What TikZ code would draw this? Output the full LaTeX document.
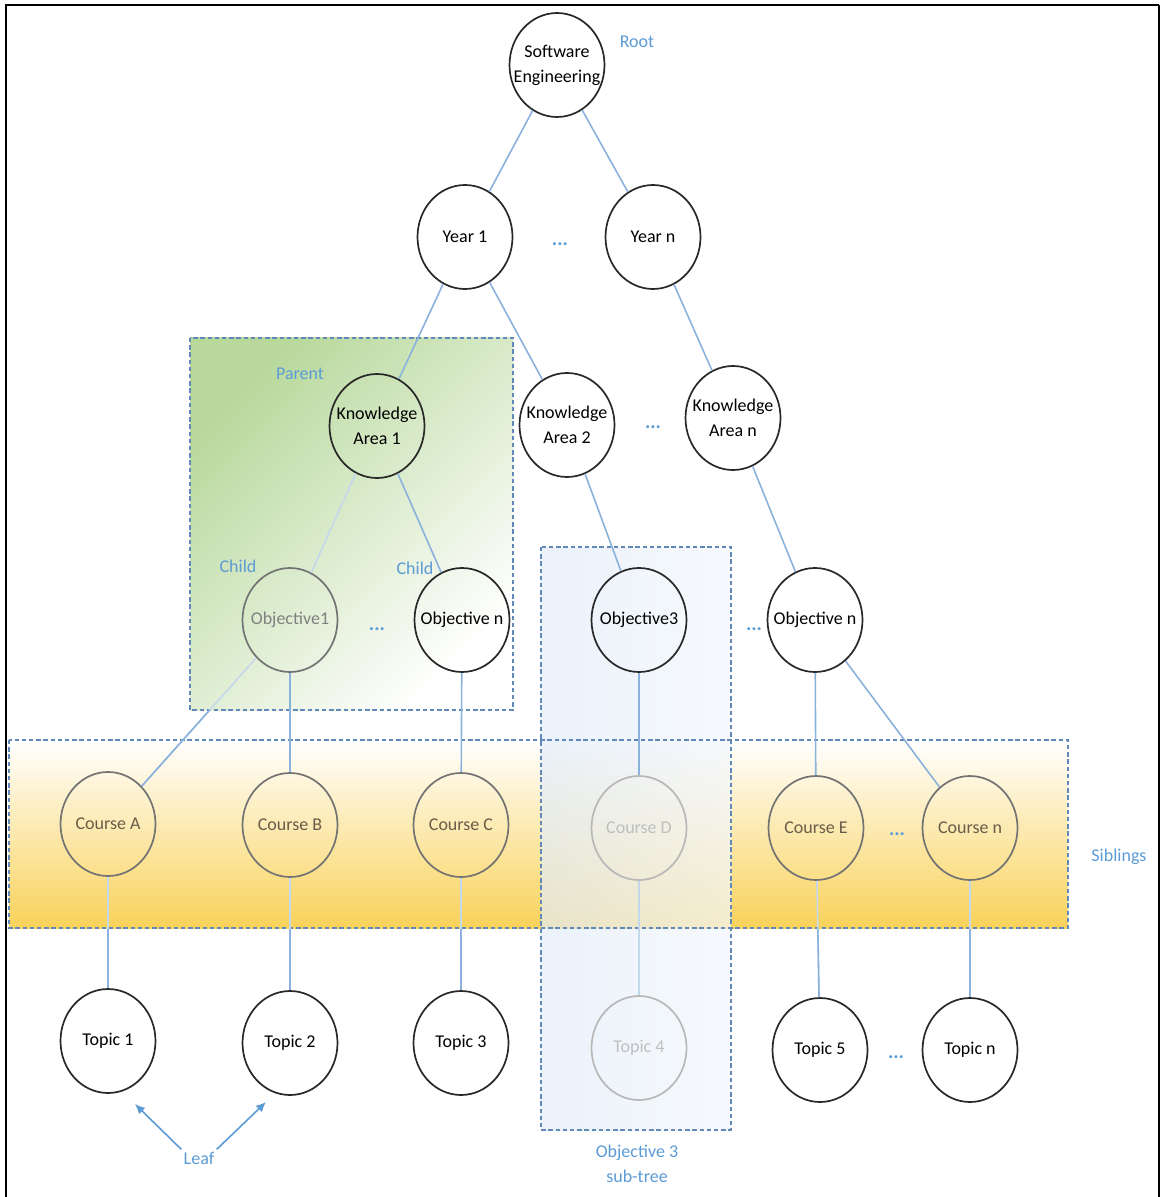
\documentclass[tikz,border=0pt]{standalone}
\usepackage{fontspec}
\setmainfont{Carlito}
\usetikzlibrary{shapes.geometric,arrows.meta}

\definecolor{linkblue}{RGB}{138,178,220}
\definecolor{linkpale}{RGB}{196,216,236}
\definecolor{lblblue}{RGB}{91,155,213}
\definecolor{boxedge}{RGB}{96,136,184}
\definecolor{nodeedge}{RGB}{40,40,40}
\definecolor{parentgreen}{RGB}{184,216,156}
\definecolor{parentmid}{RGB}{236,244,228}
\definecolor{sibyellow}{RGB}{249,210,90}
\definecolor{sibmid}{RGB}{254,246,222}
\definecolor{subleft}{RGB}{226,236,248}
\definecolor{subright}{RGB}{243,247,252}
\definecolor{coursetext}{RGB}{105,92,72}

\tikzset{
  nd/.style={ellipse, draw=nodeedge, line width=0.85pt,
    minimum width=47.5pt, minimum height=52pt, inner sep=0pt},
  ndsoft/.style={nd, draw=black!55},
  ndghost/.style={nd, draw=black!28},
  ntx/.style={align=center, font=\fontsize{9}{12.5}\selectfont, text=black},
  ntxsoft/.style={ntx, text=coursetext},
  ntxgrey/.style={ntx, text=black!50},
  ntxghost/.style={ntx, text=black!25},
  link/.style={draw=linkblue, line width=0.8pt},
  linkfaint/.style={draw=linkpale, line width=0.8pt},
  dbox/.style={draw=boxedge, line width=0.6pt, dash pattern=on 2.2pt off 1.4pt},
  lbl/.style={text=lblblue, font=\fontsize{9}{12.5}\selectfont, inner sep=1pt},
  dots/.style={text=lblblue, font=\fontsize{10}{12}\selectfont\bfseries, inner sep=0pt},
}

\begin{document}
\begin{tikzpicture}[x=0.5pt,y=-0.5pt]
\useasboundingbox (0,0) rectangle (1160,1197);

% frame
\draw[line width=1.4pt] (6,1197) -- (6,5) -- (1159,5);
\draw[line width=0.8pt] (1159,5) -- (1159,1197);

% highlighted regions
\shade[shading=axis, top color=parentgreen, middle color=parentmid, bottom color=white, shading angle=45]
  (190,338) rectangle (513,710);
\shade[top color=white, middle color=sibmid, bottom color=sibyellow]
  (9,740) rectangle (1068,928);
\shade[left color=subleft, right color=subright, fill opacity=0.7]
  (541,547) rectangle (731,1130);
\draw[dbox] (190,338) rectangle (513,710);
\draw[dbox] (9,740) rectangle (1068,928);
\draw[dbox] (541,547) rectangle (731,1130);

% tree nodes
\node[nd] (se) at (557,65) {};
\node[nd] (y1) at (465,237) {};
\node[nd] (yn) at (653,237) {};
\node[nd] (ka1) at (377,426) {};
\node[nd] (ka2) at (567,425) {};
\node[nd] (kan) at (733,418) {};
\node[ndsoft] (ob1) at (290,620) {};
\node[nd] (obn) at (462,620) {};
\node[nd] (ob3) at (639,620) {};
\node[nd] (obm) at (815,620) {};
\node[ndsoft] (ca) at (108,824) {};
\node[ndsoft] (cb) at (290,825) {};
\node[ndsoft] (cc) at (461,825) {};
\node[ndghost] (cd) at (639,828) {};
\node[ndsoft] (ce) at (816,828) {};
\node[ndsoft] (cn) at (970,828) {};
\node[nd] (t1) at (108,1041) {};
\node[nd] (t2) at (290,1043) {};
\node[nd] (t3) at (461,1043) {};
\node[ndghost] (t4) at (639,1048) {};
\node[nd] (t5) at (820,1050) {};
\node[nd] (tn) at (970,1050) {};

% node texts
\node[ntx] (se-t) at (se) {Software\\Engineering};
\node[ntx] (y1-t) at (y1) {Year 1};
\node[ntx] (yn-t) at (yn) {Year n};
\node[ntx] (ka1-t) at (ka1) {Knowledge\\Area 1};
\node[ntx] (ka2-t) at (ka2) {Knowledge\\Area 2};
\node[ntx] (kan-t) at (kan) {Knowledge\\Area n};
\node[ntxgrey] (ob1-t) at (ob1) {Objective1};
\node[ntx] (obn-t) at (obn) {Objective n};
\node[ntx] (ob3-t) at (ob3) {Objective3};
\node[ntx] (obm-t) at (obm) {Objective n};
\node[ntxsoft] (ca-t) at (ca) {Course A};
\node[ntxsoft] (cb-t) at (cb) {Course B};
\node[ntxsoft] (cc-t) at (cc) {Course C};
\node[ntxghost] (cd-t) at (cd) {Course D};
\node[ntxsoft] (ce-t) at (ce) {Course E};
\node[ntxsoft] (cn-t) at (cn) {Course n};
\node[ntx] (t1-t) at (t1) {Topic 1};
\node[ntx] (t2-t) at (t2) {Topic 2};
\node[ntx] (t3-t) at (t3) {Topic 3};
\node[ntxghost] (t4-t) at (t4) {Topic 4};
\node[ntx] (t5-t) at (t5) {Topic 5};
\node[ntx] (tn-t) at (tn) {Topic n};

% connectors
\draw[link] (se) -- (y1);
\draw[link] (se) -- (yn);
\draw[link] (y1) -- (ka1);
\draw[link] (y1) -- (ka2);
\draw[link] (yn) -- (kan);
\draw[linkfaint] (ka1) -- (ob1);
\draw[link] (ka1) -- (obn);
\draw[link] (ka2) -- (ob3);
\draw[link] (kan) -- (obm);
\draw[linkfaint] (ob1) -- (ca);
\draw[link] (ob1) -- (cb);
\draw[link] (obn) -- (cc);
\draw[link] (ob3) -- (cd);
\draw[link] (obm) -- (ce);
\draw[link] (obm) -- (cn);
\begin{scope}
  \clip (0,710) rectangle (540,1197);
  \draw[link] (ob1) -- (ca);
\end{scope}
\draw[linkfaint] (ca) -- (t1);
\draw[linkfaint] (cb) -- (t2);
\draw[linkfaint] (cc) -- (t3);
\draw[linkfaint] (cd) -- (t4);
\draw[linkfaint] (ce) -- (t5);
\draw[linkfaint] (cn) -- (tn);
\begin{scope}
  \clip (0,929) rectangle (1160,1197);
  \draw[link] (ca) -- (t1);
  \draw[link] (cb) -- (t2);
  \draw[link] (cc) -- (t3);
  \draw[link] (ce) -- (t5);
  \draw[link] (cn) -- (tn);
\end{scope}

% continuation marks
\node[dots] (d1) at (560,244) {...};
\node[dots] (d2) at (653,427) {...};
\node[dots] (d3) at (377,629) {...};
\node[dots] (d4) at (754,629) {...};
\node[dots] (d5) at (897,834) {...};
\node[dots] (d6) at (896,1057) {...};

% annotations
\node[lbl] (root) at (637,42) {Root};
\node[lbl] (parent) at (300,374) {Parent};
\node[lbl] (child1) at (238,566) {Child};
\node[lbl] (child2) at (415,568) {Child};
\node[lbl] (sib) at (1119,857) {Siblings};
\node[lbl, align=center] (subtree) at (637,1164) {Objective 3\\sub-tree};
\node[lbl] (leaf) at (199,1158) {Leaf};
\coordinate (leafL) at (135,1104);
\coordinate (leafR) at (266,1102);
\draw[draw=lblblue, line width=0.8pt, -{Latex[length=5pt,width=4.5pt]}] (leaf.north west) -- (leafL);
\draw[draw=lblblue, line width=0.8pt, -{Latex[length=5pt,width=4.5pt]}] (leaf.north east) -- (leafR);
\end{tikzpicture}
\end{document}
